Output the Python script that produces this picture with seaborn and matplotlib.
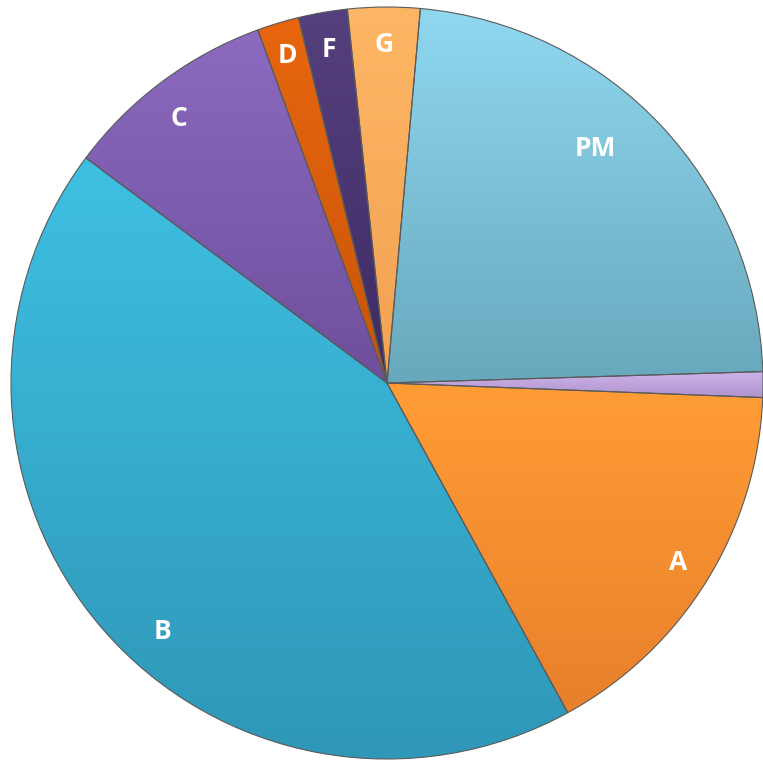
import matplotlib
matplotlib.use('Agg')
import matplotlib.pyplot as plt
from matplotlib.colors import to_rgb
import seaborn as sns
import numpy as np

# slice shares (percent), clockwise from the top
labels = ['PM', '', 'A', 'B', 'C', 'D', 'F', 'G']
shares = [23.1, 1.1, 16.4, 43.2, 9.2, 1.8, 2.1, 3.1]

# gradient top / bottom colours for each slice
top_colors = ['#8FD8F0', '#CDB3EA', '#FF9D35', '#3EC0E3', '#8C6AC0', '#E8660F', '#55407E', '#FDB665']
bottom_colors = ['#68A8BC', '#AE92CC', '#E8802C', '#2F97B7', '#6E4F9C', '#C85508', '#3E2B62', '#F2A252']

sns.set_theme(style='white')
plt.rcParams['font.family'] = ['Open Sans', 'DejaVu Sans']

fig = plt.figure(figsize=(7.63, 7.60), dpi=100)
ax = fig.add_axes([0, 0, 1, 1])

cx, cy, R = 387, 377, 376
wedges, _ = ax.pie(shares, colors=bottom_colors, startangle=84.9, counterclock=False,
                   center=(cx, cy), radius=R,
                   wedgeprops=dict(edgecolor='#5a5a5a', linewidth=0.8))

# vertical gradient fill inside each wedge
for w, c_top, c_bot in zip(wedges, top_colors, bottom_colors):
    bb = w.get_path().get_extents()
    t = np.linspace(0, 1, 256)[:, None]
    grad = (1 - t) * np.array(to_rgb(c_top)) + t * np.array(to_rgb(c_bot))
    grad = grad[:, None, :]
    im = ax.imshow(grad, extent=[bb.x0, bb.x1, bb.y0, bb.y1], origin='upper',
                   aspect='auto', zorder=2, interpolation='bilinear')
    im.set_clip_path(w)
    w.set_facecolor('none')
    w.set_zorder(3)

# label radius (fraction of R) and angular nudge (deg)
label_dist = [0.835, 0.9, 0.91, 0.89, 0.895, 0.91, 0.9, 0.9]
label_turn = [5, 0, 0, 7, 1.5, 0, 0, 0]
for w, lab, d, turn in zip(wedges, labels, label_dist, label_turn):
    if not lab:
        continue
    ang = np.deg2rad((w.theta1 + w.theta2) / 2 + turn)
    ax.text(cx + d * R * np.cos(ang), cy + d * R * np.sin(ang), lab,
            ha='center', va='center', color='white', fontsize=19,
            fontweight='bold', zorder=5)

ax.set_xlim(0, 763)
ax.set_ylim(0, 760)
ax.set_aspect('equal')
ax.set_axis_off()

plt.savefig('out.png', dpi=100)
plt.close()
